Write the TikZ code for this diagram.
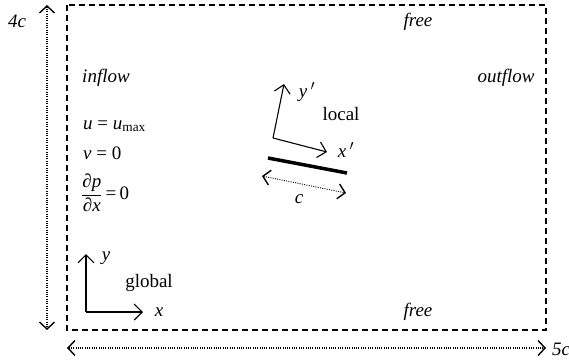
\documentclass[tikz,border=0pt]{standalone}
\usepackage{fontspec}
\usepackage{amsmath}
\setmainfont{Liberation Serif}
\usetikzlibrary{arrows.meta}
\begin{document}
\begin{tikzpicture}[x=1pt,y=-1pt,
  every node/.style={font=\fontsize{19}{21}\selectfont, inner sep=0pt},
  lab/.style={font=\fontsize{19}{21}\selectfont\itshape},
  box/.style={draw, line width=1.1pt, dash pattern=on 6pt off 4pt},
  dim/.style={line width=1.2pt, dash pattern=on 1pt off 1.3pt, {Straight Barb[length=7pt,width=15pt,line width=1.4pt]}-{Straight Barb[length=7pt,width=15pt,line width=1.4pt]}},
  axis/.style={line width=1.1pt, -{Straight Barb[length=8pt,width=16pt]}},
  plate/.style={line width=3.5pt}]
\useasboundingbox (0,0) rectangle (569,360);
% domain
\coordinate (tl) at (67,5);
\coordinate (br) at (546,330);
\draw[box] (tl) rectangle (br);
% dimension arrows
\coordinate (vt) at (47,5);
\coordinate (vb) at (47,330);
\draw[dim] (vt) -- (vb);
\coordinate (hl) at (67,348);
\coordinate (hr) at (546,348);
\draw[dim] (hl) -- (hr);
\node[lab] (h4) at (17,21) {4c};
\node[lab, anchor=west] (w5) at (552,349) {5c};
% boundary labels
\node[lab] (ftop) at (418,22) {free};
\node[lab] (fbot) at (418,312) {free};
\node[lab] (inf) at (106,78) {inflow};
\node[lab] (outf) at (506,78) {outflow};
% inflow conditions
\node[anchor=west] (eq1) at (83,126) {\textit{u} = \textit{u}\textsubscript{max}};
\node[anchor=west] (eq2) at (83,153) {\textit{v} = 0};
\node[anchor=west] (eq3) at (81,193) {$\dfrac{\text{\itshape ∂p}}{\text{\itshape ∂x}}$\,=\,0};
% global axes
\coordinate (go) at (86,312);
\coordinate (gy) at (86,254);
\coordinate (gx) at (143,312);
\draw[axis] (go) -- (gy);
\draw[axis] (go) -- (gx);
\node[lab] (ly) at (106,258) {y};
\node (glob) at (149,283) {global};
\node[lab] (lx) at (159,312) {x};
% local axes
\coordinate (lo) at (273,138);
\coordinate (ly') at (284,84);
\coordinate (lx') at (327,152);
\draw[axis] (lo) -- (ly');
\draw[axis] (lo) -- (lx');
\node[lab] (lyp) at (307,92) {y\,$'$};
\node (loc) at (341,114) {local};
\node[lab] (lxp) at (346,150) {x\,$'$};
% plate
\coordinate (p1) at (268,158);
\coordinate (p2) at (347,173);
\draw[plate] (p1) -- (p2);
\coordinate (c1) at (262,176);
\coordinate (c2) at (346,193);
\draw[dim, line width=0.9pt] (c1) -- (c2);
\node[lab] (cl) at (299,199) {c};
\end{tikzpicture}
\end{document}
